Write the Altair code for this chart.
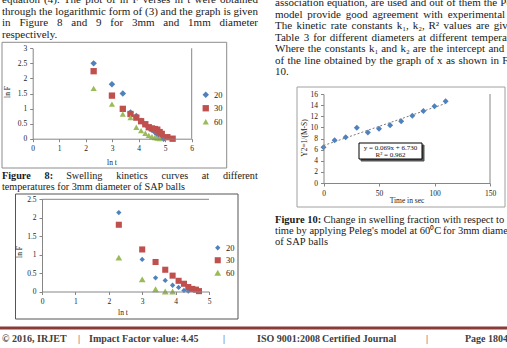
import altair as alt
import pandas as pd

W, H = 507, 348
SERIF = "Liberation Serif"
AX = "#868686"

# ---------------- data ----------------
series_names = ["20", "30", "60"]
series_colors = ["#4F81BD", "#C0504D", "#9BBB59"]
series_shapes = ["diamond", "square", "triangle-up"]

# Figure 8 (3 mm balls): ln t vs ln F
f8_lnt_20 = [2.30, 2.99, 3.40, 3.69, 3.91, 4.09, 4.25, 4.38, 4.50, 4.61, 4.70, 4.79, 4.87, 4.94]
f8_lnF_20 = [2.50, 1.81, 1.50, 0.87, 0.75, 0.60, 0.47, 0.37, 0.30, 0.22, 0.15, 0.08, 0.04, 0.00]
f8_lnt_30 = [2.30, 2.99, 3.40, 3.69, 3.91, 4.09, 4.25, 4.38, 4.50, 4.61, 4.70, 4.79, 4.87, 5.08, 5.28]
f8_lnF_30 = [2.24, 1.43, 0.99, 0.82, 0.70, 0.58, 0.48, 0.38, 0.34, 0.32, 0.30, 0.22, 0.16, 0.05, 0.00]
f8_lnt_60 = [2.30, 2.99, 3.40, 3.69, 3.91, 4.09, 4.25, 4.38, 4.50, 4.61, 4.70, 4.79]
f8_lnF_60 = [1.67, 1.15, 0.82, 0.70, 0.38, 0.27, 0.18, 0.11, 0.07, 0.04, 0.02, 0.00]

# Figure 9 (1 mm balls)
f9_lnt_20 = [2.30, 3.00, 3.40, 3.69, 3.91, 4.09, 4.25, 4.38]
f9_lnF_20 = [2.14, 0.87, 0.37, 0.30, 0.17, 0.11, 0.03, 0.01]
f9_lnt_30 = [2.30, 3.00, 3.40, 3.69, 3.91, 4.09, 4.25, 4.38, 4.50, 4.61, 4.70]
f9_lnF_30 = [1.81, 1.14, 0.80, 0.59, 0.43, 0.29, 0.21, 0.12, 0.07, 0.05, 0.01]
f9_lnt_60 = [2.30, 3.00, 3.40, 3.69, 3.91]
f9_lnF_60 = [0.92, 0.33, 0.06, 0.00, 0.00]

# Figure 10 (Peleg's model, 60 C, 3 mm)
f10_time = [0, 10, 20, 30, 40, 50, 60, 70, 80, 90, 100, 110]
f10_val = [6.42, 7.68, 8.22, 9.95, 9.10, 9.77, 10.40, 11.10, 12.10, 12.95, 13.80, 14.70]

x8_ticks = [0, 1, 2, 3, 4, 5, 6]
y8_ticks = [0, 0.5, 1, 1.5, 2, 2.5, 3]
x9_ticks = [0, 1, 2, 3, 4, 5]
y9_ticks = [0, 0.5, 1, 1.5, 2, 2.5]
x10_ticks = [0, 50, 100, 150]
y10_ticks = [0, 2, 4, 6, 8, 10, 12, 14, 16]

left_lines = [
    "equation (4). The plot of ln F verses ln t were obtained",
    "through the logarithmic form of (3) and the graph is given",
    "in Figure 8 and 9 for 3mm and 1mm diameter",
    "respectively.",
]
right_lines = [
    "association equation, are used and out of them the Peleg's",
    "model provide good agreement with experimental data.",
    "The kinetic rate constants k\u2081, k\u2082, R\u00b2 values are given in",
    "Table 3 for different diameters at different temperatures.",
    "Where the constants k\u2081 and k\u2082 are the intercept and slope",
    "of the line obtained by the graph of x as shown in Figure",
    "10.",
]
cap8 = ["Figure 8: Swelling kinetics curves at different",
        "temperatures for 3mm diameter of SAP balls"]
cap10 = ["Figure 10: Change in swelling fraction with respect to",
         "time by applying Peleg's model at 60\u2070C for 3mm diameter",
         "of SAP balls"]
footer_items = ["\u00a9 2016, IRJET", "|", "Impact Factor value: 4.45", "|",
                "ISO 9001:2008 Certified Journal", "|", "Page 1804"]
eq_lines = ["y = 0.069x + 6.730", "R\u00b2 = 0.962"]

# ---------------- text metrics (Times / Liberation Serif) ----------------
REG = dict(zip("abcdefghijklmnopqrstuvwxyz",
               [444, 500, 444, 500, 444, 333, 500, 500, 278, 278, 500, 278, 778, 500, 500, 500, 500, 333, 389, 278, 500, 500, 722, 500, 500, 444]))
REG.update(zip("ABCDEFGHIJKLMNOPQRSTUVWXYZ",
               [722, 667, 667, 722, 611, 556, 722, 722, 333, 389, 722, 611, 889, 722, 722, 556, 722, 667, 556, 611, 722, 722, 944, 722, 722, 611]))
BLD = dict(zip("abcdefghijklmnopqrstuvwxyz",
               [500, 556, 444, 556, 444, 333, 500, 556, 278, 333, 556, 278, 833, 556, 500, 556, 556, 444, 389, 333, 556, 500, 722, 500, 500, 444]))
BLD.update(zip("ABCDEFGHIJKLMNOPQRSTUVWXYZ",
               [722, 667, 722, 722, 667, 611, 778, 778, 389, 500, 778, 667, 944, 722, 778, 611, 778, 722, 556, 667, 722, 722, 1000, 722, 722, 667]))
for d in "0123456789":
    REG[d] = 500
    BLD[d] = 500
PUNCT = {" ": 250, ".": 250, ",": 250, ":": 278, ";": 278, "(": 333, ")": 333, "'": 180, "-": 333,
         "|": 200, "\u00a9": 760, "\u00b2": 300, "\u2081": 300, "\u2082": 300, "\u2070": 300}
REG.update(PUNCT)
BLD.update(PUNCT)


def tw(s, fs, bold=False):
    t = BLD if bold else REG
    return sum(t.get(c, 500) for c in s) * fs / 1000.0


rows = []


def add_line(s, x0, y, fs=11, x1=None, bold_words=0, color="#1a1a1a", all_bold=False):
    words = s.split(" ")
    bolds = [all_bold or i < bold_words for i in range(len(words))]
    widths = [tw(w, fs, b) for w, b in zip(words, bolds)]
    if x1 is None or len(words) == 1:
        gap = 0.25 * fs
    else:
        gap = (x1 - x0 - sum(widths)) / (len(words) - 1)
    x = x0
    for w, wd, b in zip(words, widths, bolds):
        rows.append(dict(t=w, px=x, py=y, fs=fs, c=color, b=b))
        x += wd + gap


# body text, left column
for i, (line, yb) in enumerate(zip(left_lines, [3.0, 14.5, 26.0, 37.5])):
    add_line(line, 2, yb, 11, x1=258 if i < 3 else None)
# body text, right column
for i, line in enumerate(right_lines):
    add_line(line, 275, 6.0 + 11.55 * i, 11, x1=531 if i < 6 else None)
# captions
add_line(cap8[0], 2, 178.5, 10.2, x1=258, bold_words=2)
add_line(cap8[1], 2, 189.5, 10.2)
add_line(cap10[0], 275, 222.5, 10.5, bold_words=2)
add_line(cap10[1], 275, 233.5, 10.5)
add_line(cap10[2], 275, 244.5, 10.5)
# footer
for item, fx in zip(footer_items, [2, 78, 89, 223, 257, 426, 465]):
    add_line(item, fx, 342, 10, all_bold=(item != "|"), color="#404040")

tdf = pd.DataFrame(rows)


def text_layer(df, weight):
    return alt.Chart(df).mark_text(align="left", baseline="alphabetic", font=SERIF, fontWeight=weight).encode(
        text="t:N",
        x=alt.X("px:Q", scale=None, axis=None),
        y=alt.Y("py:Q", scale=None, axis=None),
        size=alt.Size("fs:Q", scale=None, legend=None),
        color=alt.Color("c:N", scale=None, legend=None),
    )


def ctext(s, x, y, fs=7.5, angle=0, color="#222"):
    kw = dict(align="center", baseline="middle", font=SERIF, fontSize=fs, color=color)
    if angle:
        kw["angle"] = angle
    return alt.Chart(pd.DataFrame({"t": [s]})).mark_text(**kw).encode(
        text="t:N", x=alt.value(x), y=alt.value(y))


ONE = pd.DataFrame({"a": [0]})


def box(x0, y0, x1, y1, stroke="#8c8c8c", fill="white", fill_opacity=0.0, sw=1):
    return alt.Chart(ONE).mark_rect(fill=fill, fillOpacity=fill_opacity, stroke=stroke, strokeWidth=sw).encode(
        x=alt.value(x0), x2=alt.value(x1), y=alt.value(y0), y2=alt.value(y1))


def rule(x0, y0, x1, y1, color=AX, sw=1):
    return alt.Chart(ONE).mark_rule(color=color, strokeWidth=sw).encode(
        x=alt.value(x0), x2=alt.value(x1), y=alt.value(y0), y2=alt.value(y1))


def xaxis(values, ypix):
    return alt.Axis(values=values, format="~f", orient="bottom", offset=ypix - H, title=None, grid=False,
                    domainColor=AX, tickColor=AX, tickSize=3, labelPadding=3, labelFont=SERIF,
                    labelFontSize=7.5, labelColor="#222", labelFlush=False, labelOverlap=False, zindex=1)


def yaxis(values, xpix):
    return alt.Axis(values=values, format="~f", orient="left", offset=-xpix, title=None, grid=False,
                    domainColor=AX, tickColor=AX, tickSize=3, labelPadding=3, labelFont=SERIF,
                    labelFontSize=7.5, labelColor="#222", labelFlush=False, labelOverlap=False, zindex=1)


def series_df(lnts, lnFs):
    parts = []
    for name, xs, ys in zip(series_names, lnts, lnFs):
        parts.append(pd.DataFrame({"lnt": xs, "lnF": ys, "series": name}))
    return pd.concat(parts, ignore_index=True)


def scatter(df, xdom, xr, ydom, yr, xvals, yvals, sizes, lx, ly, rowpad):
    leg = alt.Legend(orient="none", legendX=lx, legendY=ly, title=None, labelFont=SERIF, labelFontSize=8.5,
                     labelColor="#222", symbolSize=38, rowPadding=rowpad, labelOffset=4, padding=0,
                     symbolStrokeWidth=0)
    return alt.Chart(df).mark_point(filled=True, opacity=1, strokeWidth=0).encode(
        x=alt.X("lnt:Q", scale=alt.Scale(domain=xdom, range=xr, nice=False, zero=False), axis=xaxis(xvals, yr[0])),
        y=alt.Y("lnF:Q", scale=alt.Scale(domain=ydom, range=yr, nice=False, zero=False), axis=yaxis(yvals, xr[0])),
        color=alt.Color("series:N", scale=alt.Scale(domain=series_names, range=series_colors), legend=leg),
        shape=alt.Shape("series:N", scale=alt.Scale(domain=series_names, range=series_shapes), legend=leg),
        size=alt.Size("series:N", scale=alt.Scale(domain=series_names, range=sizes), legend=None),
    )


df8 = series_df([f8_lnt_20, f8_lnt_30, f8_lnt_60], [f8_lnF_20, f8_lnF_30, f8_lnF_60])
df9 = series_df([f9_lnt_20, f9_lnt_30, f9_lnt_60], [f9_lnF_20, f9_lnF_30, f9_lnF_60])
df10 = pd.DataFrame({"time": f10_time, "val": f10_val})

pts8 = scatter(df8, [0, 6], [32.7, 191.7], [0, 3], [138.7, 48.3], x8_ticks, y8_ticks,
               [42, 38, 36], 201.5, 90.5, 4.5)
pts9 = scatter(df9, [0, 5], [42, 209], [0, 2.5], [291.5, 199.3], x9_ticks, y9_ticks,
               [28, 46, 36], 213.5, 243.5, 3.5)

x10 = alt.X("time:Q", scale=alt.Scale(domain=[0, 150], range=[323.5, 490], nice=False, zero=False),
            axis=xaxis(x10_ticks, 183))
y10 = alt.Y("val:Q", scale=alt.Scale(domain=[0, 16], range=[183, 94], nice=False, zero=False),
            axis=yaxis(y10_ticks, 323.5))
trend10 = alt.Chart(df10).transform_regression("time", "val", extent=[0, 110]).mark_line(
    color="#6a6a6a", strokeWidth=0.9, strokeDash=[2, 2]).encode(x=x10, y=y10)
pts10 = alt.Chart(df10).mark_point(filled=True, opacity=1, strokeWidth=0, shape="diamond", size=36,
                                    color="#4F81BD").encode(x=x10, y=y10)
panel10 = alt.layer(trend10, pts10)

layers = [
    # chart frames
    box(2, 42.3, 226.7, 168, stroke="#8c8c8c"),
    box(15.5, 194, 238, 319, stroke="#555555"),
    box(297, 87, 505, 207, stroke="#a0a0a0"),
    # plot-area edges
    rule(191.7, 48.3, 191.7, 138.7),
    rule(42, 199.3, 209, 199.3),
    rule(490, 94, 490, 183),
    pts8,
    pts9,
    panel10,
    # equation box
    box(361, 145, 424, 161, stroke="#555555", fill="#555555", fill_opacity=1),
    box(359, 143, 422, 159, stroke="#000000", fill="white", fill_opacity=1),
    ctext(eq_lines[0], 390.5, 148, 7, color="#111"),
    ctext(eq_lines[1], 390.5, 154.5, 7, color="#111"),
    # axis titles
    ctext("ln t", 112, 163, 7.5),
    ctext("ln F", 8, 92, 7.5, angle=270),
    ctext("ln t", 123, 313, 7.5),
    ctext("ln F", 20, 252, 7.5, angle=270),
    ctext("Time in sec", 407, 201, 7.5),
    ctext("Y2=1/(M-S)", 304.5, 138, 7.5, angle=270),
    # footer line
    rule(0, 328, W, 328, color="#8a3b39", sw=3),
    text_layer(tdf[~tdf["b"]], "normal"),
    text_layer(tdf[tdf["b"]], "bold"),
]

chart = alt.layer(*layers).resolve_scale(
    x="independent", y="independent", color="independent", shape="independent", size="independent"
).resolve_axis(x="independent", y="independent").resolve_legend(
    color="independent", shape="independent", size="independent"
).properties(
    width=W, height=H, padding=0, background="white",
    autosize=alt.AutoSizeParams(type="none"),
).configure_view(stroke=None)

chart.save("out.html", embed_options={"renderer": "svg", "actions": False})
